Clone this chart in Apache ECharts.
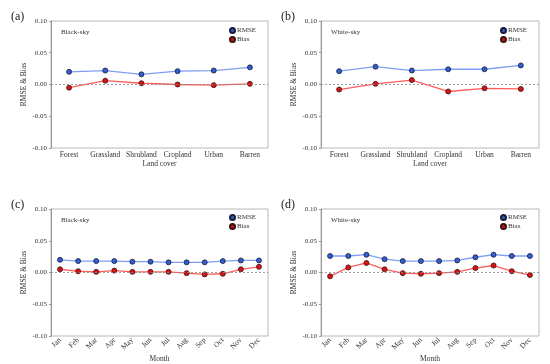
<!DOCTYPE html>
<html>
<head>
<meta charset="utf-8">
<script src="https://cdn.jsdelivr.net/npm/echarts@6/dist/echarts.min.js"></script>
<style>html,body{margin:0;padding:0;background:#fff}#c{width:550px;height:364px}</style>
</head>
<body>
<div id="c"></div>
<script>
var landCover = ['Forest','Grassland','Shrubland','Cropland','Urban','Barren'];
var months = ['Jan','Feb','Mar','Apr','May','Jun','Jul','Aug','Sep','Oct','Nov','Dec'];
var yTicks = [-0.10, -0.05, 0.00, 0.05, 0.10];

var rmseBlackLC = [0.020, 0.022, 0.016, 0.021, 0.022, 0.027];
var biasBlackLC = [-0.005, 0.006, 0.002, 0.000, -0.001, 0.001];
var rmseWhiteLC = [0.021, 0.028, 0.022, 0.024, 0.024, 0.030];
var biasWhiteLC = [-0.008, 0.001, 0.007, -0.011, -0.006, -0.007];
var rmseBlackM = [0.020,0.018,0.018,0.018,0.017,0.017,0.016,0.016,0.016,0.018,0.019,0.019];
var biasBlackM = [0.005,0.002,0.001,0.003,0.001,0.001,0.001,-0.001,-0.003,-0.002,0.005,0.009];
var rmseWhiteM = [0.026,0.026,0.028,0.021,0.018,0.018,0.018,0.019,0.024,0.028,0.026,0.026];
var biasWhiteM = [-0.006,0.008,0.015,0.005,-0.001,-0.002,-0.001,0.001,0.007,0.011,0.002,-0.004];

var FONT = 'Liberation Serif';
var panels = [
  {tag:'(a)', sky:'Black-sky', cats:landCover, rmse:rmseBlackLC, bias:biasBlackLC, xname:'Land cover', left:51, top:21, width:217, lx:229, ly:27},
  {tag:'(b)', sky:'White-sky', cats:landCover, rmse:rmseWhiteLC, bias:biasWhiteLC, xname:'Land cover', left:321, top:21, width:218, lx:500, ly:27},
  {tag:'(c)', sky:'Black-sky', cats:months, rmse:rmseBlackM, bias:biasBlackM, xname:'Month', left:51, top:209, width:217, lx:229, ly:214},
  {tag:'(d)', sky:'White-sky', cats:months, rmse:rmseWhiteM, bias:biasWhiteM, xname:'Month', left:321, top:209, width:218, lx:500, ly:214}
];

var option = {animation:false, backgroundColor:'#fff', textStyle:{fontFamily:FONT},
  grid:[], xAxis:[], yAxis:[], series:[], legend:[], title:[]};

panels.forEach(function(p, i){
  var isMonth = p.cats.length === 12;
  option.grid.push({left:p.left, top:p.top, width:p.width, height:127, show:true, borderColor:'#b8b8b8', borderWidth:1, backgroundColor:'transparent'});
  option.xAxis.push({type:'category', gridIndex:i, data:p.cats, boundaryGap:true,
    name:p.xname, nameLocation:'middle', nameGap:isMonth?16:9,
    nameTextStyle:{fontFamily:FONT, fontSize:7.5, color:'#333'},
    axisLine:{show:false}, axisTick:{show:false},
    axisLabel:{fontFamily:FONT, fontSize:7.5, color:'#333', margin:isMonth?3:3, rotate:isMonth?45:0, interval:0}});
  option.yAxis.push({type:'value', gridIndex:i, min:-0.1, max:0.1, interval:0.05,
    name:'RMSE & Bias', nameLocation:'middle', nameGap:23,
    nameTextStyle:{fontFamily:FONT, fontSize:7.5, color:'#333'},
    axisLine:{show:true, lineStyle:{color:'#999'}}, axisTick:{show:true, length:2, lineStyle:{color:'#999'}},
    splitLine:{show:false},
    axisLabel:{fontFamily:FONT, fontSize:7, color:'#333', margin:4, formatter:function(v){return v.toFixed(2);}}});
  option.series.push({name:'RMSE', type:'line', xAxisIndex:i, yAxisIndex:i, data:p.rmse,
    symbol:'circle', symbolSize:5, lineStyle:{color:'#7d9ef2', width:1.3},
    itemStyle:{color:'#2f5fd0', borderColor:'#1b1b3a', borderWidth:0.8}, z:3,
    markLine:{silent:true, symbol:'none', label:{show:false}, lineStyle:{color:'#888', type:[2,2], width:0.8},
      data:[{yAxis:0}]}});
  option.series.push({name:'Bias', type:'line', xAxisIndex:i, yAxisIndex:i, data:p.bias,
    symbol:'circle', symbolSize:5, lineStyle:{color:'#ff5c5c', width:1.3},
    itemStyle:{color:'#d81414', borderColor:'#3a1010', borderWidth:0.8}, z:3});
  option.legend.push({left:p.lx, top:p.ly, orient:'vertical', itemGap:2, itemWidth:5, itemHeight:5, icon:'circle',
    data:['RMSE','Bias'], textStyle:{fontFamily:FONT, fontSize:7, color:'#333', padding:[0,0,0,-3]}, padding:0, selectedMode:false});
  option.title.push({text:p.tag, left:p.left-45, top:p.top-15, textStyle:{fontFamily:FONT, fontSize:12, fontWeight:'normal', color:'#222'}});
  option.title.push({text:p.sky, left:p.left+5, top:p.top+3, textStyle:{fontFamily:FONT, fontSize:7, fontWeight:'normal', color:'#333'}});
});

var chart = echarts.init(document.getElementById('c'), null, {renderer:'canvas'});
chart.setOption(option);
</script>
</body>
</html>
